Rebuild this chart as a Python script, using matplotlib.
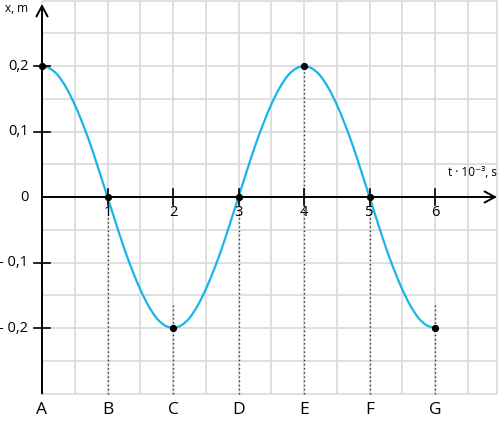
import matplotlib
matplotlib.use("Agg")
import matplotlib.pyplot as plt
from matplotlib.path import Path
from matplotlib.patches import PathPatch
import numpy as np

plt.rcParams['font.family'] = ['Open Sans', 'DejaVu Sans']

# ---- data ----
# time (in 10^-3 s) sampled every 0.125
t_curve = [i * 0.125 for i in range(49)]
x_curve = [0.2, 0.196, 0.185, 0.166, 0.141, 0.111, 0.077, 0.039,
           0.0, -0.039, -0.077, -0.111, -0.141, -0.166, -0.185, -0.196,
           -0.2, -0.196, -0.185, -0.166, -0.141, -0.111, -0.077, -0.039,
           0.0, 0.039, 0.077, 0.111, 0.141, 0.166, 0.185, 0.196,
           0.2, 0.196, 0.185, 0.166, 0.141, 0.111, 0.077, 0.039,
           0.0, -0.039, -0.077, -0.111, -0.141, -0.166, -0.185, -0.196,
           -0.2]
t_points = [0, 1, 2, 3, 4, 5, 6]
x_points = [0.2, 0.0, -0.2, 0.0, 0.2, 0.0, -0.2]
point_letters = ['A', 'B', 'C', 'D', 'E', 'F', 'G']
x_tick_vals = [1, 2, 3, 4, 5, 6]
x_tick_labels = ['1', '2', '3', '4', '5', '6']
y_tick_vals = [0.2, 0.1, 0.0, -0.1, -0.2]
y_tick_labels = ['0,2', '0,1', '0', '- 0,1', '- 0,2']
dotted_top = [0.0, 0.0, -0.165, 0.0, 0.2, 0.0, -0.165]

# ---- layout ----
fig = plt.figure(figsize=(5.0, 4.24), dpi=100)
ax = fig.add_axes([0, 0, 1, 1])
px = 65.5  # pixels per 1 unit of t
ax.set_xlim(-42 / px, (500 - 42) / px)
ax.set_ylim(-(424 - 197) / (px * 10), 197 / (px * 10))
ax.axis('off')

grid_c = '#dcdcdc'
t_right = (497 - 42) / px
y_bottom = -0.3
y_top = 0.3
for gx in list(np.arange(0, 6.51, 0.5)) + [t_right]:
    ax.plot([gx, gx], [y_bottom, y_top], color=grid_c, lw=1.3, zorder=1,
            solid_capstyle='butt')
for gy in np.arange(-0.3, 0.301, 0.05):
    ax.plot([0, t_right], [gy, gy], color=grid_c, lw=1.3, zorder=1,
            solid_capstyle='butt')

# dotted drop lines
for tp, top in zip(t_points[1:], dotted_top[1:]):
    ax.plot([tp, tp], [y_bottom, top], color='#333333', lw=1.0,
            linestyle=(0, (1, 2)), zorder=2)

# axes with arrows
arrow_kw = dict(arrowstyle='->,head_length=0.75,head_width=0.4', color='black',
                lw=1.4, shrinkA=0, shrinkB=0)
ax.annotate('', xy=(0, 0.2947), xytext=(0, y_bottom), arrowprops=arrow_kw, zorder=4)
ax.annotate('', xy=(t_right, 0), xytext=(0, 0), arrowprops=arrow_kw, zorder=4)

# ticks
for tv in x_tick_vals:
    ax.plot([tv, tv], [-0.012, 0.012], color='black', lw=1.2, zorder=4)
for yv in y_tick_vals:
    if yv != 0:
        ax.plot([-8 / px, 8 / px], [yv, yv], color='black', lw=1.2, zorder=4)

# tick labels
for tv, lab in zip(x_tick_vals, x_tick_labels):
    ax.text(tv, -0.024, lab, ha='center', va='center', fontsize=10.5, zorder=5)
for yv, lab in zip(y_tick_vals, y_tick_labels):
    ax.text(-13.5 / px, yv, lab, ha='right', va='center', fontsize=10.5, zorder=5)

# curve: smooth Catmull-Rom Bezier through the sampled values
P = np.column_stack([t_curve, x_curve])
ext = np.vstack([2 * P[0] - P[1], P, 2 * P[-1] - P[-2]])
verts = [tuple(P[0])]
codes = [Path.MOVETO]
for i in range(1, len(ext) - 2):
    p0, p1, p2, p3 = ext[i - 1], ext[i], ext[i + 1], ext[i + 2]
    c1 = p1 + (p2 - p0) / 6.0
    c2 = p2 - (p3 - p1) / 6.0
    verts += [tuple(c1), tuple(c2), tuple(p2)]
    codes += [Path.CURVE4] * 3
ax.add_patch(PathPatch(Path(verts, codes), facecolor='none', edgecolor='#1ab4e8',
                       lw=1.6, zorder=3))
ax.plot(t_points, x_points, 'o', color='black', markersize=4.2, zorder=6)

# letters
for tp, L in zip(t_points, point_letters):
    ax.text(tp, -0.3245, L, ha='center', va='center', fontsize=12.5, zorder=5)

# axis titles
ax.text(-37 / px, 0.2885, 'x, m', ha='left', va='center', fontsize=8.5)
ax.text(455 / px, 0.037, 't · 10⁻³, s', ha='right', va='center', fontsize=8.5)

fig.savefig('out.png', dpi=100)
